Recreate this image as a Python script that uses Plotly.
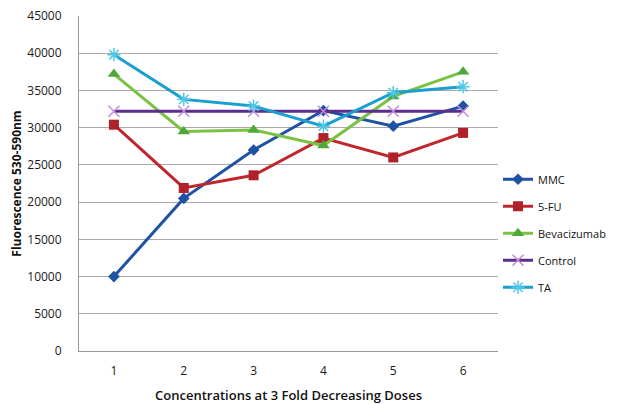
import plotly.graph_objects as go

categories = [1, 2, 3, 4, 5, 6]
mmc = [10000, 20500, 27000, 32300, 30200, 32900]
fu5 = [30400, 21900, 23600, 28600, 26000, 29300]
bev = [37200, 29500, 29700, 27600, 34200, 37500]
control = [32200, 32200, 32200, 32200, 32200, 32200]
ta = [39800, 33800, 32900, 30200, 34700, 35500]
y_ticks = [0, 5000, 10000, 15000, 20000, 25000, 30000, 35000, 40000, 45000]

series = [
    ("MMC", mmc, "#1F52A3", "diamond", "#1F52A3", 9, 0),
    ("5-FU", fu5, "#C0272D", "square", "#B0222A", 10, 0),
    ("Bevacizumab", bev, "#7CC242", "triangle-up", "#4FA83A", 11, 0),
    ("Control", control, "#5A2D8E", "x-thin-open", "#C58BDA", 11, 1.5),
    ("TA", ta, "#1A9FD0", "asterisk-open", "#4FC8E8", 11, 1.5),
]

fig = go.Figure()
for name, vals, lc, sym, mc, ms, mlw in series:
    fig.add_trace(go.Scatter(
        x=categories, y=vals, name=name, mode="lines+markers", legendgroup=name,
        line=dict(color=lc, width=3),
        marker=dict(symbol=sym, color=mc, size=ms,
                    line=dict(color=mc, width=mlw) if mlw else dict(width=0)),
    ))

fig.update_layout(
    width=610, height=396,
    margin=dict(l=71, r=120, t=8, b=53, autoexpand=False),
    paper_bgcolor="white", plot_bgcolor="white",
    font=dict(family="Open Sans", size=11, color="#1a1a1a"),
    showlegend=True,
    legend=dict(x=1.0, y=0.556, xanchor="left", yanchor="top",
                font=dict(size=11, color="#111"), tracegroupgap=8,
                itemwidth=30, bgcolor="rgba(0,0,0,0)"),
    xaxis=dict(
        range=[0.5, 6.5], tickvals=categories, ticktext=[str(c) for c in categories],
        showgrid=False, showline=True, linecolor="#999", linewidth=1,
        ticks="", zeroline=False, ticklabelstandoff=9, automargin=False,
        tickfont=dict(size=12), ticklabeloverflow="allow",
        title=dict(text="Concentrations at 3 Fold Decreasing Doses",
                   font=dict(size=13, color="#111", weight=600), standoff=15),
    ),
    yaxis=dict(
        range=[0, 45000], tickvals=y_ticks, ticktext=[str(v) for v in y_ticks],
        showgrid=True, gridcolor="#B0A8A8", gridwidth=1,
        showline=True, linecolor="#999", linewidth=1, zeroline=False,
        ticks="", ticklabelstandoff=14, automargin=False,
        tickfont=dict(size=12), ticklabeloverflow="allow",
        title=dict(text="<b>Fluorescence 530-590nm</b>",
                   font=dict(size=12, color="#111"), standoff=3),
    ),
)

fig.write_html("out.html")
